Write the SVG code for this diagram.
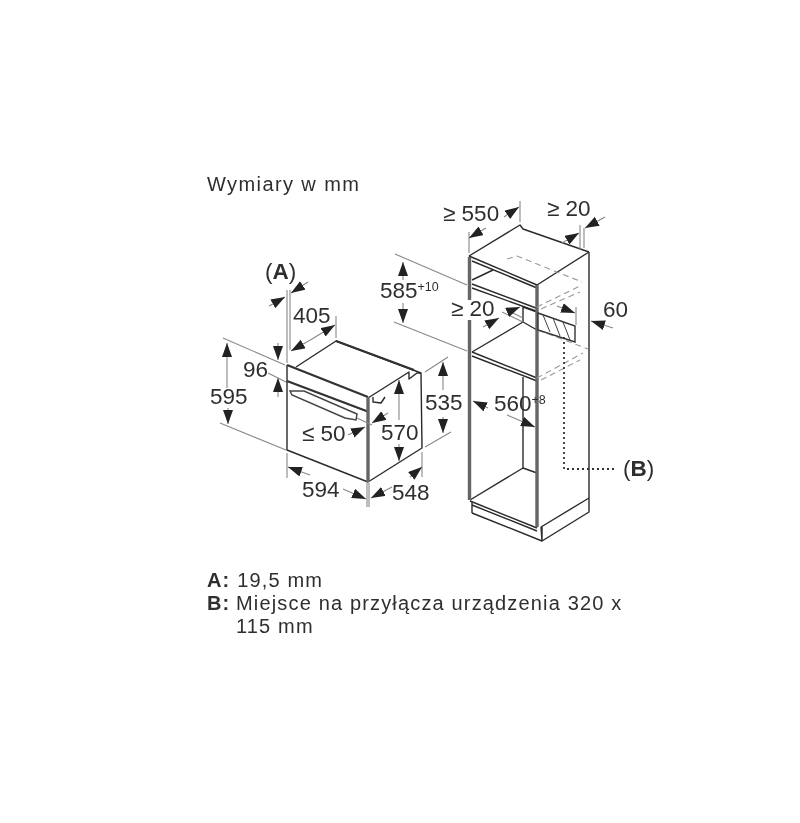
<svg xmlns="http://www.w3.org/2000/svg" width="800" height="823" viewBox="0 0 800 823">
<style>
text{font-family:"Liberation Sans",Arial,sans-serif;font-size:22.500px;fill:#2f2f2f}
.sm{font-size:12.5px}
.b{font-weight:bold}
.l{font-size:20px;letter-spacing:1.16px}
.k{fill:none;stroke:#2a2a2a;stroke-width:1.4;stroke-linejoin:round}
.t{fill:none;stroke:#333;stroke-width:2.4}
.p{fill:none;stroke:#666;stroke-width:3.4}
.e{fill:none;stroke:#888;stroke-width:1.1}
.d{fill:none;stroke:#888;stroke-width:1.1;marker-end:url(#a)}
.h{fill:none;stroke:#999;stroke-width:1.1;stroke-dasharray:6 4}
.o{fill:none;stroke:#333;stroke-width:1.8;stroke-dasharray:2 3}
</style>
<defs>
<marker id="a" markerUnits="userSpaceOnUse" markerWidth="16" markerHeight="12" refX="14" refY="5" orient="auto"><path d="M0 0L14 5L0 10Z" fill="#222"/></marker>
<filter id="s" x="0" y="0" width="100%" height="100%"><feGaussianBlur stdDeviation="0.35"/></filter>
</defs>
<rect width="800" height="823" fill="#fff"/>
<g filter="url(#s)">
<g id="oven">
<path class="k" d="M287 365V450L368 482L422 448L421 373L336 341L296 367"/>
<path class="k" d="M368 398L409 372V379L417 373L421 373"/>
<path class="k" d="M373 397V402L381 403L385 397"/>
<path class="t" d="M287 365L368 397M287 381L369 412M336 341L414 370"/>
<path class="p" d="M368 397V482"/>
<path fill="#fff" stroke="#444" stroke-width="1.5" d="M290 391L304 391L357 414L356 420L345 418L292 395Z"/>
</g>
<g id="cabinet">
<path class="k" d="M469 256L520 225L523 229L589 252M537 285L589 252M589 252V512L542 541L541 527M589 498L541 527M472 513V502M472 513L542 541V527"/>
<path class="k" d="M470 500L523 468V377M523 468L537 473"/>
<path class="k" d="M472 280L493 270M472 352L523 322V307L537 312M523 322L537 330M537 285V527"/>
<path class="k" d="M470 501L537 528M472 505L537 531M469 256L537 285M472 261L537 288M472 284L536 308M472 288L536 311M472 352L537 378M472 356L537 381"/>
<path class="p" d="M469.500 257V300M469.500 320V500M537 285V527"/>
<path class="h" d="M507 259L517 256L582 282M537 307L582 285M541 309L580 292M537 378L583 353M541 380L580 360M538 330L588 349"/>
<path fill="#fff" stroke="#333" stroke-width="1.4" d="M538 313L575 326V342L538 330Z"/>
<path fill="none" stroke="#444" stroke-width="1" d="M543 315L550 332M553 318L560 336M563 322L570 340"/>
</g>
<g id="connectors">
<path class="o" d="M564 337V469H617"/>
<path class="e" d="M287 290V363M290 290V350M336 316V338M223 338L285 365M268 373L286 382M220 423L286 450M287 453V478M367 483V507M369 483V507M422 452V477M357 418L372 425M395 254L467 285M394 322L467 351M425 372L448 357M425 447L451 432M469 232V253M520 201V222M580 225V250M584 228V248M576 307V325M502 312L523 322M507 310L523 318"/>
<path class="d" d="M269 306L285 297"/><path class="d" d="M308 282L291 293"/>
<path class="d" d="M312 339L335 325"/><path class="d" d="M312 339L291 351"/>
<path class="d" d="M278 343V360"/><path class="d" d="M278 397V378"/>
<path class="d" d="M227 388V343"/><path class="d" d="M228 408V424"/>
<path class="d" d="M310 475L288 467"/><path class="d" d="M343 489L366 499"/>
<path class="d" d="M392 487L371 498"/><path class="d" d="M410 477L422 467"/>
<path class="d" d="M348 435L365 427"/><path class="d" d="M388 413L372 423"/>
<path class="d" d="M399 420V380"/><path class="d" d="M399 444V461"/>
<path class="d" d="M443 390V362"/><path class="d" d="M443 417V433"/>
<path class="d" d="M403 280V262"/><path class="d" d="M403 303V323"/>
<path class="d" d="M486 228L469 238"/><path class="d" d="M504 217L519 207"/>
<path class="d" d="M562 243L579 233"/><path class="d" d="M605 217L585 228"/>
<path class="d" d="M613 328L591 321"/><path class="d" d="M557 306L575 313"/>
<path class="d" d="M483 327L499 318"/><path class="d" d="M508 312L520 307"/>
<path class="d" d="M488 408L473 401"/><path class="d" d="M507 415L535 427"/>
</g>
<g id="labels">
<text x="207" y="191" class="l" style="letter-spacing:1.4px">Wymiary w mm</text>
<text x="265" y="279">(<tspan class="b">A</tspan>)</text>
<text x="293" y="323">405</text>
<text x="243" y="377">96</text>
<text x="210" y="404">595</text>
<text x="302" y="497">594</text>
<text x="392" y="500">548</text>
<text x="302" y="441">≤ 50</text>
<text x="381" y="440">570</text>
<text x="425" y="410">535</text>
<text x="380" y="298">585<tspan class="sm" dy="-7">+10</tspan></text>
<text x="443" y="221">≥ 550</text>
<text x="547" y="216">≥ 20</text>
<text x="451" y="316">≥ 20</text>
<text x="603" y="317">60</text>
<text x="494" y="411">560<tspan class="sm" dy="-7">+8</tspan></text>
<text x="623" y="476">(<tspan class="b">B</tspan>)</text>
<text x="207" y="587" class="l"><tspan class="b">A:</tspan> 19,5 mm</text>
<text x="207" y="610" class="l b">B:</text>
<text x="236" y="610" class="l">Miejsce na przyłącza urządzenia 320 x</text>
<text x="236" y="633" class="l">115 mm</text>
</g>
</g>
</svg>
